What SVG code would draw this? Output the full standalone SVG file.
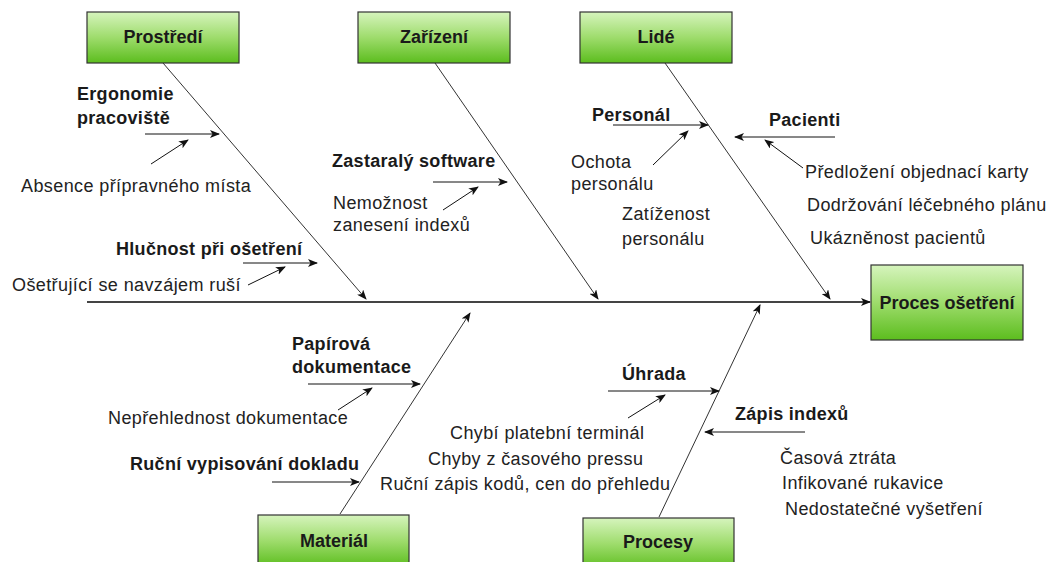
<svg xmlns="http://www.w3.org/2000/svg" width="1048" height="562" viewBox="0 0 1048 562">
  <defs>
    <linearGradient id="boxFill" x1="0" y1="0" x2="0" y2="1">
      <stop offset="0" stop-color="#d6f4bd"/>
      <stop offset="0.5" stop-color="#9edc6c"/>
      <stop offset="1" stop-color="#5cbd1e"/>
    </linearGradient>
    <marker id="arrow" viewBox="0 0 10 8" refX="9" refY="4" markerWidth="10" markerHeight="8" markerUnits="userSpaceOnUse" orient="auto">
      <path d="M0,0 L10,4 L0,8 L2.5,4 z" fill="#111"/>
    </marker>
  </defs>
  <style>
    .box { fill: url(#boxFill); stroke: #333; stroke-width: 1.2; }
    .title { font-family: "Liberation Sans", Arial, sans-serif; font-weight: bold; font-size: 18px; fill: #1a1a1a; text-anchor: middle; }
    .cause { font-family: "Liberation Sans", Arial, sans-serif; font-weight: bold; font-size: 18px; letter-spacing: 0.3px; fill: #1a1a1a; }
    .item { font-family: "Liberation Sans", Arial, sans-serif; font-size: 18px; letter-spacing: 0.4px; fill: #222; }
    .spine { stroke: #444; stroke-width: 2; fill: none; }
    .bone { stroke: #333; stroke-width: 1; fill: none; }
    .sub { stroke: #111; stroke-width: 1; fill: none; }
  </style>
  <rect width="1048" height="562" fill="#fff"/>

  <!-- connectors: spine, category bones, cause arrows -->
  <g id="connectors">
    <line class="spine" x1="87" y1="302" x2="870" y2="302" marker-end="url(#arrow)"/>
    <line class="bone" x1="163" y1="63" x2="366" y2="299" marker-end="url(#arrow)"/>
    <line class="bone" x1="435" y1="63" x2="598" y2="299" marker-end="url(#arrow)"/>
    <line class="bone" x1="665" y1="63" x2="830" y2="299" marker-end="url(#arrow)"/>
    <line class="bone" x1="340" y1="514" x2="470" y2="313" marker-end="url(#arrow)"/>
    <line class="bone" x1="659" y1="517" x2="760" y2="305" marker-end="url(#arrow)"/>

    <line class="sub" x1="145" y1="134" x2="219" y2="134" marker-end="url(#arrow)"/>
    <line class="sub" x1="151" y1="164" x2="188" y2="140" marker-end="url(#arrow)"/>
    <line class="sub" x1="243" y1="263" x2="317" y2="263" marker-end="url(#arrow)"/>
    <line class="sub" x1="248" y1="285" x2="285" y2="267" marker-end="url(#arrow)"/>

    <line class="sub" x1="433" y1="182" x2="507" y2="182" marker-end="url(#arrow)"/>
    <line class="sub" x1="443" y1="210" x2="478" y2="187" marker-end="url(#arrow)"/>

    <line class="sub" x1="613" y1="125" x2="708" y2="125" marker-end="url(#arrow)"/>
    <line class="sub" x1="653" y1="165" x2="688" y2="131" marker-end="url(#arrow)"/>
    <line class="sub" x1="835" y1="137" x2="735" y2="137" marker-end="url(#arrow)"/>
    <line class="sub" x1="803" y1="168" x2="765" y2="140" marker-end="url(#arrow)"/>

    <line class="sub" x1="308" y1="384" x2="420" y2="384" marker-end="url(#arrow)"/>
    <line class="sub" x1="338" y1="410" x2="372" y2="388" marker-end="url(#arrow)"/>
    <line class="sub" x1="272" y1="482" x2="359" y2="482" marker-end="url(#arrow)"/>

    <line class="sub" x1="608" y1="391" x2="719" y2="391" marker-end="url(#arrow)"/>
    <line class="sub" x1="628" y1="418" x2="665" y2="395" marker-end="url(#arrow)"/>
    <line class="sub" x1="805" y1="432" x2="705" y2="432" marker-end="url(#arrow)"/>
  </g>

  <!-- category boxes -->
  <g id="prostredi">
    <rect class="box" x="87" y="12" width="152" height="51"/>
    <text class="title" x="163" y="43">Prostředí</text>
  </g>
  <g id="zarizeni">
    <rect class="box" x="358" y="12" width="152" height="51"/>
    <text class="title" x="434" y="43">Zařízení</text>
  </g>
  <g id="lide">
    <rect class="box" x="580" y="12" width="152" height="51"/>
    <text class="title" x="656" y="43">Lidé</text>
  </g>
  <g id="proces-osetreni">
    <rect class="box" x="871" y="265" width="152" height="75"/>
    <text class="title" x="947" y="309">Proces ošetření</text>
  </g>
  <g id="material">
    <rect class="box" x="258" y="515" width="151" height="52"/>
    <text class="title" x="334" y="547">Materiál</text>
  </g>
  <g id="procesy">
    <rect class="box" x="583" y="518" width="151" height="52"/>
    <text class="title" x="658" y="548">Procesy</text>
  </g>

  <!-- Prostředí causes -->
  <g id="ergonomie">
    <text class="cause" x="77" y="100">Ergonomie</text>
    <text class="cause" x="77" y="124">pracoviště</text>
    <text class="item" x="21" y="192">Absence přípravného místa</text>
  </g>
  <g id="hlucnost">
    <text class="cause" x="116" y="255">Hlučnost při ošetření</text>
    <text class="item" x="12" y="291">Ošetřující se navzájem ruší</text>
  </g>

  <!-- Zařízení causes -->
  <g id="software">
    <text class="cause" x="332" y="167">Zastaralý software</text>
    <text class="item" x="333" y="209">Nemožnost</text>
    <text class="item" x="333" y="231">zanesení indexů</text>
  </g>

  <!-- Lidé causes -->
  <g id="personal">
    <text class="cause" x="592" y="121">Personál</text>
    <text class="item" x="571" y="168">Ochota</text>
    <text class="item" x="571" y="190">personálu</text>
    <text class="item" x="622" y="220">Zatíženost</text>
    <text class="item" x="622" y="245">personálu</text>
  </g>
  <g id="pacienti">
    <text class="cause" x="769" y="126">Pacienti</text>
    <text class="item" x="805" y="178">Předložení objednací karty</text>
    <text class="item" x="807" y="211">Dodržování léčebného plánu</text>
    <text class="item" x="810" y="244">Ukázněnost pacientů</text>
  </g>

  <!-- Materiál causes -->
  <g id="papirova">
    <text class="cause" x="292" y="350">Papírová</text>
    <text class="cause" x="292" y="373">dokumentace</text>
    <text class="item" x="108" y="424">Nepřehlednost dokumentace</text>
  </g>
  <g id="rucni-doklad">
    <text class="cause" x="130" y="470">Ruční vypisování dokladu</text>
  </g>

  <!-- Procesy causes -->
  <g id="uhrada">
    <text class="cause" x="622" y="380">Úhrada</text>
    <text class="item" x="450" y="439">Chybí platební terminál</text>
    <text class="item" x="428" y="465">Chyby z časového pressu</text>
    <text class="item" x="380" y="490">Ruční zápis kodů, cen do přehledu</text>
  </g>
  <g id="zapis">
    <text class="cause" x="735" y="420">Zápis indexů</text>
    <text class="item" x="780" y="464">Časová ztráta</text>
    <text class="item" x="782" y="489">Infikované rukavice</text>
    <text class="item" x="785" y="515">Nedostatečné vyšetření</text>
  </g>
</svg>
